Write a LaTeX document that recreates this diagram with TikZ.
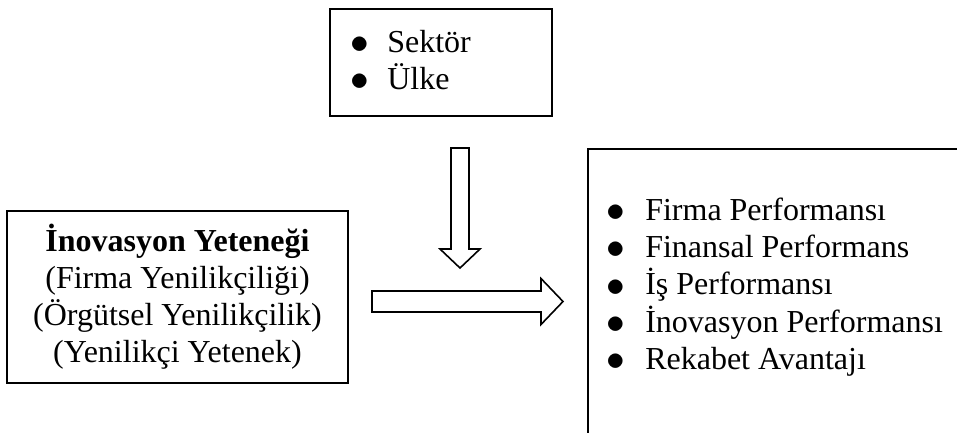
\documentclass[tikz,border=0pt]{standalone}
\usepackage{fontspec}
\setmainfont{Liberation Serif}
\newcommand{\madde}{\raisebox{-1.5pt}{\scalebox{1.5}{$\bullet$}}}
\begin{document}
\begin{tikzpicture}[x=1pt,y=-1pt,line join=miter,font=\fontsize{32}{37}\selectfont]
		\tikzset{kutu/.style={draw,line width=2.2pt,inner sep=0pt},
			liste/.style={inner sep=0pt,anchor=north west},
			okblok/.style={draw,line width=1.6pt,fill=white}}
		\useasboundingbox (0,0) rectangle (957,432);
		%--------- Kutular
		\node[kutu,anchor=north west,minimum width=222,minimum height=107] (sektor) at (329,8) {};
		\node[liste] (sektorliste) at ([shift={(21.4,18)}]sektor.north west)
			{\begin{tabular}{@{}l@{\hspace{18pt}}l@{}}\madde & Sektör\\ \madde & Ülke\end{tabular}};
		\node[kutu,align=center,minimum width=341,minimum height=172] (yetenek) at (177.5,297)
			{\textbf{İnovasyon Yeteneği}\\(Firma Yenilikçiliği)\\(Örgütsel Yenilikçilik)\\(Yenilikçi Yetenek)};
		\node[kutu,anchor=north west,minimum width=420,minimum height=330] (performans) at (587,148) {};
		\node[liste] (performansliste) at ([shift={(19.4,46)}]performans.north west)
			{\begin{tabular}{@{}l@{\hspace{20pt}}l@{}}\madde & Firma Performansı\\ \madde & Finansal Performans\\
				\madde & İş Performansı\\ \madde & İnovasyon Performansı\\ \madde & Rekabet Avantajı\end{tabular}};
		%--------- Oklar
		\coordinate (asagi) at (460,148);
		\coordinate (saga) at (372,301.5);
		\draw[okblok,shift={(asagi)}] (-9,0) -- (9,0) -- (9,101) -- (20,101) -- (0,120) -- (-20,101) -- (-9,101) -- cycle;
		\draw[okblok,shift={(saga)}] (0,-10.5) -- (169,-10.5) -- (169,-23) -- (191,0) -- (169,23) -- (169,10.5) -- (0,10.5) -- cycle;
	\end{tikzpicture}
\end{document}
